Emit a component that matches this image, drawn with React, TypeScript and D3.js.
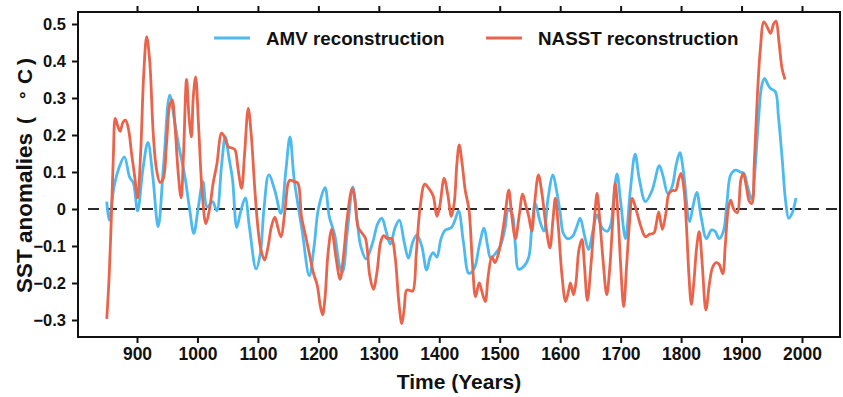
import * as d3 from "d3";
import { useRef, useEffect } from "react";

// AMV reconstruction, [year, anomaly °C]
const amvPoints: [number, number][] = [
  [850, 0.02], [854, -0.03], [862, 0.06], [870, 0.11], [879, 0.141], [888, 0.085], [894, 0.07],
  [901, -0.005], [910, 0.11], [918, 0.18], [926, 0.09], [935, -0.048], [944, 0.12], [954, 0.308],
  [961, 0.25], [968, 0.18], [979, 0.09], [987, 0.0], [994, -0.066], [1001, 0.0], [1009, 0.074],
  [1016, 0.005], [1025, 0.02], [1032, -0.005], [1040, 0.12], [1046, 0.195], [1052, 0.14],
  [1058, 0.08], [1065, -0.05], [1071, -0.01], [1079, 0.03], [1086, -0.05], [1097, -0.162],
  [1104, -0.12], [1110, 0.0], [1118, 0.092], [1128, 0.05], [1138, -0.012], [1146, 0.1],
  [1153, 0.195], [1160, 0.08], [1173, -0.057], [1185, -0.18], [1193, -0.1], [1200, 0.0],
  [1211, 0.058], [1218, -0.02], [1227, -0.07], [1236, -0.16], [1240, -0.17], [1248, -0.06],
  [1257, 0.06], [1264, -0.03], [1270, -0.1], [1279, -0.135], [1290, -0.09], [1298, -0.04],
  [1305, -0.025], [1312, -0.06], [1319, -0.095], [1327, -0.05], [1334, -0.03], [1342, -0.09],
  [1349, -0.133], [1356, -0.09], [1363, -0.07], [1371, -0.1], [1379, -0.165], [1385, -0.13],
  [1390, -0.118], [1396, -0.13], [1403, -0.08], [1410, -0.057], [1420, -0.05], [1426, -0.03],
  [1432, -0.005], [1440, -0.09], [1449, -0.174], [1458, -0.16], [1466, -0.1], [1474, -0.052],
  [1480, -0.1], [1485, -0.133], [1493, -0.12], [1501, -0.1], [1509, -0.05], [1514, -0.003],
  [1520, -0.01], [1526, -0.1], [1531, -0.163], [1540, -0.155], [1548, -0.13], [1553, -0.05],
  [1559, 0.015], [1566, -0.03], [1573, -0.06], [1580, 0.03], [1588, 0.092], [1594, 0.05],
  [1600, -0.01], [1605, -0.065], [1612, -0.08], [1620, -0.075], [1627, -0.05], [1633, -0.025],
  [1640, -0.07], [1647, -0.11], [1654, -0.06], [1661, -0.016], [1669, -0.05], [1678, -0.06],
  [1684, -0.04], [1688, 0.02], [1694, 0.095], [1700, 0.02], [1708, -0.08], [1716, 0.05],
  [1724, 0.148], [1731, 0.08], [1741, 0.02], [1752, 0.05], [1764, 0.117], [1770, 0.09],
  [1778, 0.042], [1785, 0.06], [1792, 0.12], [1798, 0.152], [1804, 0.1], [1814, -0.034],
  [1820, 0.01], [1826, 0.045], [1833, -0.02], [1842, -0.08], [1850, -0.057], [1856, -0.06],
  [1863, -0.08], [1870, -0.06], [1876, 0.02], [1882, 0.092], [1890, 0.105], [1898, 0.1],
  [1904, 0.096], [1910, 0.06], [1917, 0.025], [1922, 0.1], [1928, 0.24], [1933, 0.33],
  [1938, 0.353], [1944, 0.335], [1948, 0.326], [1956, 0.317], [1961, 0.25], [1967, 0.14],
  [1973, 0.02], [1978, -0.025], [1984, -0.01], [1990, 0.03],
];

// NASST reconstruction, [year, anomaly °C]
const nasstPoints: [number, number][] = [
  [850, -0.297], [854, -0.18], [858, 0.0], [861, 0.15], [864, 0.245], [868, 0.225], [872, 0.21],
  [877, 0.235], [881, 0.24], [886, 0.215], [891, 0.15], [896, 0.09], [901, 0.03], [906, 0.15],
  [911, 0.36], [916, 0.466], [921, 0.4], [927, 0.2], [932, 0.11], [938, 0.072], [943, 0.08],
  [949, 0.18], [954, 0.28], [958, 0.295], [963, 0.22], [968, 0.1], [973, 0.03], [977, 0.15],
  [982, 0.35], [986, 0.25], [990, 0.195], [993, 0.3], [997, 0.357], [1002, 0.22], [1008, 0.04],
  [1014, -0.04], [1020, 0.0], [1026, 0.07], [1032, 0.12], [1040, 0.205], [1046, 0.19],
  [1051, 0.168], [1057, 0.165], [1062, 0.16], [1067, 0.11], [1073, 0.056], [1078, 0.15],
  [1084, 0.272], [1089, 0.2], [1095, 0.05], [1100, -0.05], [1105, -0.11], [1111, -0.138],
  [1117, -0.1], [1122, -0.05], [1128, -0.022], [1133, -0.05], [1138, -0.075], [1145, 0.0],
  [1150, 0.07], [1153, 0.078], [1160, 0.074], [1166, 0.07], [1172, -0.02], [1178, -0.066],
  [1185, -0.12], [1192, -0.174], [1198, -0.205], [1203, -0.26], [1207, -0.286], [1211, -0.24],
  [1216, -0.12], [1222, -0.055], [1229, -0.13], [1236, -0.19], [1242, -0.12], [1248, -0.02],
  [1256, 0.056], [1260, 0.03], [1266, -0.05], [1272, -0.065], [1278, -0.08], [1285, -0.18],
  [1291, -0.217], [1297, -0.17], [1303, -0.09], [1308, -0.072], [1314, -0.08], [1321, -0.08],
  [1327, -0.13], [1333, -0.25], [1338, -0.31], [1342, -0.27], [1346, -0.219], [1351, -0.22],
  [1356, -0.222], [1362, -0.12], [1368, 0.0], [1376, 0.067], [1383, 0.055], [1390, 0.035],
  [1396, -0.02], [1401, 0.01], [1408, 0.083], [1414, 0.04], [1420, -0.02], [1425, 0.02],
  [1429, 0.12], [1433, 0.173], [1438, 0.12], [1443, 0.05], [1449, 0.0], [1455, -0.15],
  [1460, -0.237], [1466, -0.2], [1470, -0.22], [1476, -0.25], [1481, -0.18], [1487, -0.129],
  [1492, -0.145], [1498, -0.12], [1506, -0.048], [1510, 0.0], [1515, 0.051], [1520, -0.02],
  [1526, -0.08], [1532, -0.02], [1538, 0.04], [1543, 0.01], [1548, -0.02], [1553, -0.06],
  [1558, 0.02], [1564, 0.092], [1570, 0.04], [1576, -0.04], [1583, -0.105], [1588, -0.03],
  [1592, 0.029], [1597, -0.05], [1603, -0.18], [1609, -0.25], [1614, -0.22], [1617, -0.2],
  [1622, -0.232], [1626, -0.2], [1631, -0.11], [1636, -0.082], [1640, -0.15], [1645, -0.247],
  [1651, -0.15], [1657, -0.02], [1661, 0.042], [1665, -0.02], [1671, -0.14], [1677, -0.232],
  [1682, -0.16], [1687, -0.03], [1691, 0.07], [1695, 0.0], [1700, -0.15], [1705, -0.264],
  [1710, -0.15], [1715, -0.03], [1719, 0.029], [1727, -0.01], [1734, -0.05], [1741, -0.075],
  [1748, -0.068], [1755, -0.065], [1759, -0.04], [1763, -0.008], [1769, -0.055], [1775, -0.01],
  [1780, 0.042], [1786, 0.05], [1791, 0.05], [1796, 0.08], [1800, 0.096], [1805, 0.05],
  [1809, -0.05], [1813, -0.18], [1817, -0.258], [1821, -0.2], [1826, -0.1], [1830, -0.061],
  [1835, -0.15], [1841, -0.273], [1847, -0.2], [1852, -0.158], [1858, -0.145], [1863, -0.15],
  [1869, -0.175], [1873, -0.1], [1878, 0.0], [1882, 0.024], [1887, 0.0], [1893, -0.01],
  [1899, 0.08], [1903, 0.096], [1908, 0.06], [1913, 0.02], [1917, 0.015], [1921, 0.12],
  [1926, 0.3], [1931, 0.43], [1937, 0.506], [1943, 0.49], [1948, 0.475], [1953, 0.5],
  [1957, 0.508], [1962, 0.45], [1967, 0.38], [1972, 0.35],
];

const xTicks = [900, 1000, 1100, 1200, 1300, 1400, 1500, 1600, 1700, 1800, 1900, 2000];
const yTicks = [0.5, 0.4, 0.3, 0.2, 0.1, 0, -0.1, -0.2, -0.3];

const seriesNames = ["AMV reconstruction", "NASST reconstruction"];
const seriesColors = ["#4cbaf0", "#ea644b"];

const FONT = "'Liberation Sans', Arial, sans-serif";

export default function App() {
  const svgRef = useRef<SVGSVGElement>(null);

  useEffect(() => {
    const svg = d3.select(svgRef.current);
    svg.selectAll("*").remove();

    // frame of the plot area
    const frame = { left: 78, right: 840, top: 12, bottom: 337 };

    const x = d3.scaleLinear().domain([900, 2000]).range([137, 802]);
    const y = d3.scaleLinear().domain([0.5, -0.3]).range([24, 320]);

    // zero reference line
    svg.append("line")
      .attr("x1", 88).attr("x2", frame.right)
      .attr("y1", y(0)).attr("y2", y(0))
      .attr("stroke", "#2a2a2a")
      .attr("stroke-width", 2)
      .attr("stroke-dasharray", "11,7");

    // the two reconstructions
    const line = d3.line<[number, number]>()
      .x(d => x(d[0]))
      .y(d => y(d[1]))
      .curve(d3.curveCatmullRom.alpha(0.5));

    [amvPoints, nasstPoints].forEach((pts, i) => {
      svg.append("path")
        .attr("d", line(pts))
        .attr("fill", "none")
        .attr("stroke", seriesColors[i])
        .attr("stroke-width", 2.8)
        .attr("stroke-linejoin", "round");
    });

    // bottom axis
    const bottom = svg.append("g").attr("transform", `translate(0,${frame.bottom})`);
    bottom.call(d3.axisBottom(x).tickValues(xTicks).tickSize(6).tickPadding(5).tickFormat(d3.format("d")));
    // top axis, ticks only
    const top = svg.append("g").attr("transform", `translate(0,${frame.top})`);
    top.call(d3.axisTop(x).tickValues(xTicks).tickSize(6).tickFormat(() => ""));
    // left axis
    const left = svg.append("g").attr("transform", `translate(${frame.left},0)`);
    left.call(d3.axisLeft(y).tickValues(yTicks).tickSize(6).tickPadding(6).tickFormat(d => d3.format("")(+d)));

    [bottom, top, left].forEach(g => {
      g.select(".domain").remove();
      g.selectAll("line").attr("stroke", "#111").attr("stroke-width", 2);
      g.selectAll("text")
        .attr("fill", "#111")
        .style("font-family", FONT)
        .style("font-weight", "bold")
        .style("font-size", "16.5px");
    });
    bottom.selectAll("text").style("font-size", "17.5px");

    // frame
    svg.append("rect")
      .attr("x", frame.left).attr("y", frame.top)
      .attr("width", frame.right - frame.left)
      .attr("height", frame.bottom - frame.top)
      .attr("fill", "none")
      .attr("stroke", "#111")
      .attr("stroke-width", 2);

    // legend
    const legend = [
      { x: 214, tx: 266 },
      { x: 486, tx: 538 },
    ];
    legend.forEach((l, i) => {
      svg.append("line")
        .attr("x1", l.x).attr("x2", l.x + 36)
        .attr("y1", 38).attr("y2", 38)
        .attr("stroke", seriesColors[i])
        .attr("stroke-width", 2.8);
      svg.append("text")
        .attr("x", l.tx).attr("y", 45)
        .style("font-family", FONT)
        .style("font-weight", "bold")
        .style("font-size", "18.8px")
        .attr("fill", "#111")
        .text(seriesNames[i]);
    });

    // x axis title
    svg.append("text")
      .attr("x", 459)
      .attr("y", 389)
      .attr("text-anchor", "middle")
      .style("font-family", FONT)
      .style("font-weight", "bold")
      .style("font-size", "21px")
      .attr("fill", "#111")
      .text("Time (Years)");

    // y axis title, rotated; parts placed along the axis
    const yTitle = svg.append("text")
      .attr("transform", "translate(32,0) rotate(-90)")
      .style("font-family", FONT)
      .style("font-weight", "bold")
      .attr("fill", "#111");
    yTitle.append("tspan").attr("x", -293).style("font-size", "22.5px").text("SST anomalies");
    yTitle.append("tspan").attr("x", -124).style("font-size", "21px").text("(");
    yTitle.append("tspan").attr("x", -99).style("font-size", "19px").text("\u00b0");
    yTitle.append("tspan").attr("x", -84).style("font-size", "21px").text("C");
    yTitle.append("tspan").attr("x", -65).style("font-size", "21px").text(")");
  }, []);

  return (
    <div style={{ position: "absolute", left: 0, top: 0 }}>
      <svg ref={svgRef} width={843} height={397} style={{ display: "block", background: "#fff" }} />
    </div>
  );
}
